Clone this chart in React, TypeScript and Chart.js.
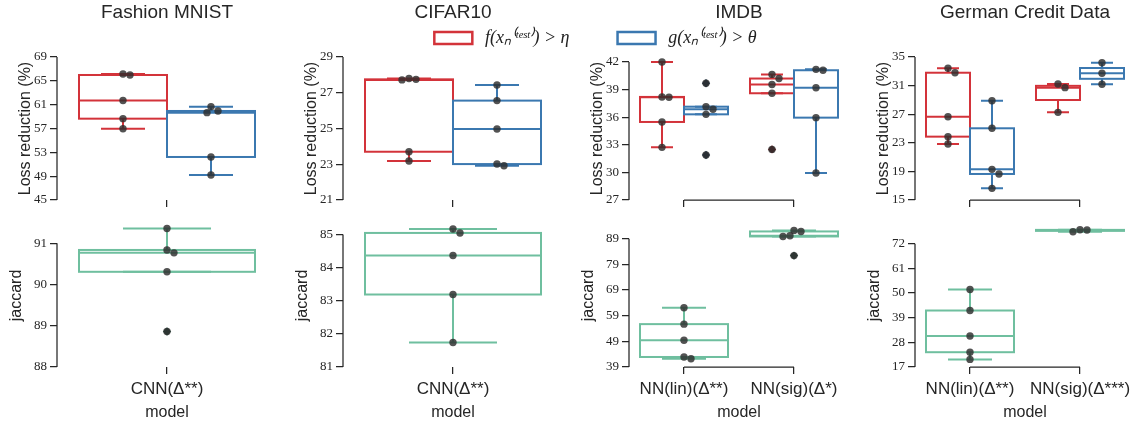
import React, { useEffect, useRef } from "react";
import { Chart, registerables } from "chart.js";
Chart.register(...registerables);

// ---------- data ----------
const TITLES = ["Fashion MNIST", "CIFAR10", "IMDB", "German Credit Data"];

const FASHION_MODELS = ["CNN(Δ**)"];
const CIFAR_MODELS = ["CNN(Δ**)"];
const IMDB_MODELS = ["NN(lin)(Δ**)", "NN(sig)(Δ*)"];
const GERMAN_MODELS = ["NN(lin)(Δ**)", "NN(sig)(Δ***)"];

// loss reduction (%) for f(x) > eta (red) and g(x) > theta (blue), one list per model
const FASHION_F = [[66.15, 65.98, 61.7, 58.65, 56.95]];
const FASHION_G = [[60.66, 59.94, 59.66, 52.22, 49.2]];
const CIFAR_F = [[27.8, 27.75, 27.72, 23.7, 23.18]];
const CIFAR_G = [[27.43, 26.56, 24.97, 23.01, 22.92]];
const IMDB_F = [[42.0, 38.2, 38.16, 35.48, 32.72], [40.65, 40.2, 39.55, 38.6, 32.5]];
const IMDB_G = [[39.68, 37.14, 36.86, 36.31, 31.89], [41.2, 41.1, 39.2, 35.95, 29.93]];
const GERMAN_F = [[33.42, 32.8, 26.65, 23.86, 22.83], [31.22, 30.71, 27.26]];
const GERMAN_G = [[28.89, 25.03, 19.29, 18.64, 16.63], [34.2, 32.72, 31.18]];

// jaccard, one list per model
const FASHION_J = [[91.36, 90.84, 90.77, 90.31, 88.86]];
const CIFAR_J = [[85.17, 85.05, 84.37, 83.19, 81.74]];
const IMDB_J = [[62.1, 55.7, 49.4, 42.9, 42.2], [92.2, 91.8, 90.1, 89.85, 82.4]];
const GERMAN_J = [[51.6, 42.2, 30.8, 23.6, 20.4], [78.25, 78.1, 77.35]];

// axis ticks and limits
const FASHION_LOSS_TICKS = [45, 49, 53, 57, 61, 65, 69];
const CIFAR_LOSS_TICKS = [21, 23, 25, 27, 29];
const IMDB_LOSS_TICKS = [27, 30, 33, 36, 39, 42];
const GERMAN_LOSS_TICKS = [15, 19, 23, 27, 31, 35];
const FASHION_JAC_TICKS = [88, 89, 90, 91];
const CIFAR_JAC_TICKS = [81, 82, 83, 84, 85];
const IMDB_JAC_TICKS = [39, 49, 59, 69, 79, 89];
const GERMAN_JAC_TICKS = [17, 28, 39, 50, 61, 72];

const FASHION_LOSS_LIM = [45, 69];
const CIFAR_LOSS_LIM = [21, 29];
const IMDB_LOSS_LIM = [27, 42.54];
const GERMAN_LOSS_LIM = [15, 35];
const FASHION_JAC_LIM = [88, 91.47];
const CIFAR_JAC_LIM = [81, 85.32];
const IMDB_JAC_LIM = [39, 94.7];
const GERMAN_JAC_LIM = [17, 80.8];

const F_LABEL = "\u2009f(xₙ⁽ᵗᵉˢᵗ⁾) > η";
const G_LABEL = "\u2009g(xₙ⁽ᵗᵉˢᵗ⁾) > θ";
const LOSS_LABEL = "Loss reduction (%)";
const JAC_LABEL = "jaccard";
const X_LABEL = "model";

// ---------- styles ----------
const RED = "#d3333a";
const BLUE = "#3b78b0";
const GREEN = "#6fbf9f";
const RED_DARK = "#7a1f22";
const BLUE_DARK = "#1d3a55";
const GREEN_DARK = "#2f5b4b";
const POINT = "rgba(45,45,45,0.82)";
const AXIS = "#262626";
const SANS = "'Liberation Sans', Arial, sans-serif";
const SERIF = "'Liberation Serif', 'Times New Roman', serif";

const COL_W = 286;
const ROW_H = 211;
const PLOT_W = 220;
const PLOT_H = 143;
const Y_AXIS_W = 57;

type Series = { values: number[][]; color: string; dark: string };
type Spec = {
  col: number;
  top: boolean;
  title: string;
  models: string[];
  series: Series[];
  ticks: number[];
  lim: number[];
  yLabel: string;
};

const SPECS: Spec[] = [
  { col: 0, top: true, title: TITLES[0], models: FASHION_MODELS, series: [{ values: FASHION_F, color: RED, dark: RED_DARK }, { values: FASHION_G, color: BLUE, dark: BLUE_DARK }], ticks: FASHION_LOSS_TICKS, lim: FASHION_LOSS_LIM, yLabel: LOSS_LABEL },
  { col: 1, top: true, title: TITLES[1], models: CIFAR_MODELS, series: [{ values: CIFAR_F, color: RED, dark: RED_DARK }, { values: CIFAR_G, color: BLUE, dark: BLUE_DARK }], ticks: CIFAR_LOSS_TICKS, lim: CIFAR_LOSS_LIM, yLabel: LOSS_LABEL },
  { col: 2, top: true, title: TITLES[2], models: IMDB_MODELS, series: [{ values: IMDB_F, color: RED, dark: RED_DARK }, { values: IMDB_G, color: BLUE, dark: BLUE_DARK }], ticks: IMDB_LOSS_TICKS, lim: IMDB_LOSS_LIM, yLabel: LOSS_LABEL },
  { col: 3, top: true, title: TITLES[3], models: GERMAN_MODELS, series: [{ values: GERMAN_F, color: RED, dark: RED_DARK }, { values: GERMAN_G, color: BLUE, dark: BLUE_DARK }], ticks: GERMAN_LOSS_TICKS, lim: GERMAN_LOSS_LIM, yLabel: LOSS_LABEL },
  { col: 0, top: false, title: "", models: FASHION_MODELS, series: [{ values: FASHION_J, color: GREEN, dark: GREEN_DARK }], ticks: FASHION_JAC_TICKS, lim: FASHION_JAC_LIM, yLabel: JAC_LABEL },
  { col: 1, top: false, title: "", models: CIFAR_MODELS, series: [{ values: CIFAR_J, color: GREEN, dark: GREEN_DARK }], ticks: CIFAR_JAC_TICKS, lim: CIFAR_JAC_LIM, yLabel: JAC_LABEL },
  { col: 2, top: false, title: "", models: IMDB_MODELS, series: [{ values: IMDB_J, color: GREEN, dark: GREEN_DARK }], ticks: IMDB_JAC_TICKS, lim: IMDB_JAC_LIM, yLabel: JAC_LABEL },
  { col: 3, top: false, title: "", models: GERMAN_MODELS, series: [{ values: GERMAN_J, color: GREEN, dark: GREEN_DARK }], ticks: GERMAN_JAC_TICKS, lim: GERMAN_JAC_LIM, yLabel: JAC_LABEL },
];

// ---------- helpers ----------
function quantile(s: number[], p: number) {
  const idx = (s.length - 1) * p;
  const lo = Math.floor(idx);
  const hi = Math.ceil(idx);
  return s[lo] + (s[hi] - s[lo]) * (idx - lo);
}

function boxStats(vals: number[]) {
  const s = [...vals].sort((a, b) => a - b);
  const q1 = quantile(s, 0.25);
  const med = quantile(s, 0.5);
  const q3 = quantile(s, 0.75);
  const iqr = q3 - q1;
  const loF = q1 - 1.5 * iqr;
  const hiF = q3 + 1.5 * iqr;
  const inl = s.filter((v) => v >= loF && v <= hiF);
  return {
    q1, med, q3,
    lo: Math.min(...inl),
    hi: Math.max(...inl),
    out: s.filter((v) => v < loF || v > hiF),
  };
}

// simple non-overlap dodge of points (pixel space), returned in x data units
function swarmOffsets(vals: number[], pxY: number, pxX: number) {
  const placed: [number, number][] = [];
  const D = 6.5;
  const steps = [0, 4, -4, 7, -7, 11, -11];
  return vals.map((v) => {
    const py = v * pxY;
    let chosen = 0;
    for (const k of steps) {
      if (placed.every(([a, b]) => Math.hypot(a - k, b - py) >= D)) {
        chosen = k;
        break;
      }
    }
    placed.push([chosen, py]);
    return chosen / pxX;
  });
}

function Panel({ spec }: { spec: Spec }) {
  const ref = useRef<HTMLCanvasElement>(null);
  useEffect(() => {
    if (!ref.current) return;
    const n = spec.models.length;
    const nh = spec.series.length;
    const boxW = 0.8 / nh;
    const [ymin, ymax] = spec.lim;
    const pxY = PLOT_H / (ymax - ymin);
    const pxX = PLOT_W / n;
    const items: any[] = [];
    const datasets: any[] = [];
    spec.series.forEach((s, h) => {
      const off = nh === 1 ? 0 : (h - (nh - 1) / 2) * boxW;
      s.values.forEach((vals, c) => {
        const cx = c + off;
        const st = boxStats(vals);
        items.push({ cx, w: boxW, st, color: s.color });
        datasets.push({
          type: "scatter",
          data: st.out.map((v) => ({ x: cx, y: v })),
          pointStyle: "rectRot",
          pointRadius: 4.2,
          backgroundColor: s.dark,
          borderColor: s.dark,
          borderWidth: 0,
          order: 2,
        });
        const jit = swarmOffsets(vals, pxY, pxX);
        datasets.push({
          type: "scatter",
          data: vals.map((v, i) => ({ x: cx + jit[i], y: v })),
          pointRadius: 3.7,
          backgroundColor: POINT,
          borderWidth: 0,
          order: 1,
        });
      });
    });

    const boxPlugin = {
      id: "boxes",
      beforeDatasetsDraw(chart: any) {
        const { ctx, chartArea } = chart;
        const xs = chart.scales.x;
        const ys = chart.scales.y;
        ctx.save();
        // trimmed spines
        ctx.strokeStyle = AXIS;
        ctx.lineWidth = 1.25;
        ctx.beginPath();
        ctx.moveTo(chartArea.left, ys.getPixelForValue(spec.ticks[0]));
        ctx.lineTo(chartArea.left, ys.getPixelForValue(spec.ticks[spec.ticks.length - 1]));
        if (n > 1) {
          ctx.moveTo(xs.getPixelForValue(0), chartArea.bottom);
          ctx.lineTo(xs.getPixelForValue(n - 1), chartArea.bottom);
        }
        ctx.stroke();
        // boxes
        ctx.lineWidth = 2;
        items.forEach((it) => {
          const { st } = it;
          const xl = xs.getPixelForValue(it.cx - it.w / 2);
          const xr = xs.getPixelForValue(it.cx + it.w / 2);
          const xc = xs.getPixelForValue(it.cx);
          const cl = xs.getPixelForValue(it.cx - it.w / 4);
          const cr = xs.getPixelForValue(it.cx + it.w / 4);
          const y1 = ys.getPixelForValue(st.q1);
          const y3 = ys.getPixelForValue(st.q3);
          const ym = ys.getPixelForValue(st.med);
          const ylo = ys.getPixelForValue(st.lo);
          const yhi = ys.getPixelForValue(st.hi);
          ctx.strokeStyle = it.color;
          ctx.beginPath();
          ctx.moveTo(xc, y1); ctx.lineTo(xc, ylo);
          ctx.moveTo(xc, y3); ctx.lineTo(xc, yhi);
          ctx.moveTo(cl, ylo); ctx.lineTo(cr, ylo);
          ctx.moveTo(cl, yhi); ctx.lineTo(cr, yhi);
          ctx.stroke();
          ctx.strokeRect(xl, y3, xr - xl, y1 - y3);
          ctx.beginPath();
          ctx.moveTo(xl, ym); ctx.lineTo(xr, ym);
          ctx.stroke();
        });
        ctx.restore();
      },
    };

    const chart = new Chart(ref.current, {
      type: "scatter",
      data: { datasets },
      options: {
        responsive: false,
        animation: false,
        devicePixelRatio: 1,
        events: [],
        layout: { padding: { left: 0, right: COL_W - Y_AXIS_W - PLOT_W, top: spec.top ? 0 : 13, bottom: 0 } },
        plugins: {
          legend: { display: false },
          tooltip: { enabled: false },
          title: spec.top
            ? {
                display: true,
                text: spec.title,
                fullSize: false,
                color: AXIS,
                font: { family: SANS, size: 19, weight: "normal" },
                padding: { top: 1, bottom: 57 - 1 - 19 * 1.2 },
              }
            : { display: false },
        },
        scales: {
          x: {
            type: "linear",
            position: "bottom",
            min: -0.5,
            max: n - 0.5,
            afterBuildTicks: (sc: any) => {
              sc.ticks = spec.models.map((_, i) => ({ value: i }));
            },
            afterFit: (sc: any) => {
              sc.height = spec.top ? ROW_H - 57 - PLOT_H : ROW_H - 13 - PLOT_H;
            },
            border: { display: false },
            grid: { drawOnChartArea: false, drawTicks: true, tickLength: 7, color: AXIS, lineWidth: 1.25 },
            ticks: {
              display: !spec.top,
              autoSkip: false,
              maxRotation: 0,
              minRotation: 0,
              padding: 5,
              color: AXIS,
              font: { family: SANS, size: 17 },
              callback: (v: any) => spec.models[Math.round(Number(v))] ?? "",
            },
            title: {
              display: !spec.top,
              text: X_LABEL,
              color: AXIS,
              font: { family: SANS, size: 16 },
              padding: { top: 0, bottom: 0 },
            },
          },
          y: {
            type: "linear",
            position: "left",
            min: ymin,
            max: ymax,
            afterBuildTicks: (sc: any) => {
              sc.ticks = spec.ticks.map((v) => ({ value: v }));
            },
            afterFit: (sc: any) => {
              sc.width = Y_AXIS_W;
            },
            border: { display: false },
            grid: { drawOnChartArea: false, drawTicks: true, tickLength: 7, color: AXIS, lineWidth: 1.25 },
            ticks: {
              padding: 3,
              color: AXIS,
              font: { family: SERIF, size: 13 },
              callback: (v: any) => String(v),
            },
            title: {
              display: true,
              text: spec.yLabel,
              color: AXIS,
              font: { family: SANS, size: 16 },
              padding: { top: spec.top ? 16 : 6.5, bottom: 0 },
            },
          },
        },
      } as any,
      plugins: [boxPlugin],
    });
    return () => chart.destroy();
  }, [spec]);

  return (
    <canvas
      ref={ref}
      width={COL_W}
      height={ROW_H}
      style={{ position: "absolute", left: spec.col * COL_W, top: spec.top ? 0 : ROW_H, width: COL_W, height: ROW_H }}
    />
  );
}

const LEG_W = 601;

function LegendChart() {
  const ref = useRef<HTMLCanvasElement>(null);
  useEffect(() => {
    if (!ref.current) return;
    const chart = new Chart(ref.current, {
      type: "bar",
      data: {
        labels: [],
        datasets: [
          { label: F_LABEL, data: [], backgroundColor: "#ffffff", borderColor: RED, borderWidth: 2.5 },
          { label: G_LABEL, data: [], backgroundColor: "#ffffff", borderColor: BLUE, borderWidth: 2.5 },
        ],
      },
      options: {
        responsive: false,
        animation: false,
        devicePixelRatio: 1,
        events: [],
        layout: { padding: 0 },
        scales: { x: { display: false }, y: { display: false } },
        plugins: {
          tooltip: { enabled: false },
          legend: {
            display: true,
            position: "top",
            maxHeight: 200,
            labels: {
              boxWidth: 38,
              boxHeight: 12,
              padding: 48,
              color: "#222",
              font: { family: SERIF, size: 18, style: "italic" },
            },
          },
        },
      } as any,
    });
    return () => chart.destroy();
  }, []);
  return (
    <canvas
      ref={ref}
      width={LEG_W}
      height={200}
      style={{ position: "absolute", left: 595.5 - LEG_W / 2, top: -19, width: LEG_W, height: 200 }}
    />
  );
}

export default function App() {
  useEffect(() => {
    document.body.style.margin = "0";
  }, []);
  return (
    <div style={{ position: "relative", width: 1140, height: 422, overflow: "hidden", background: "#fff" }}>
      {SPECS.map((s, i) => (
        <Panel key={i} spec={s} />
      ))}
      <LegendChart />
    </div>
  );
}
